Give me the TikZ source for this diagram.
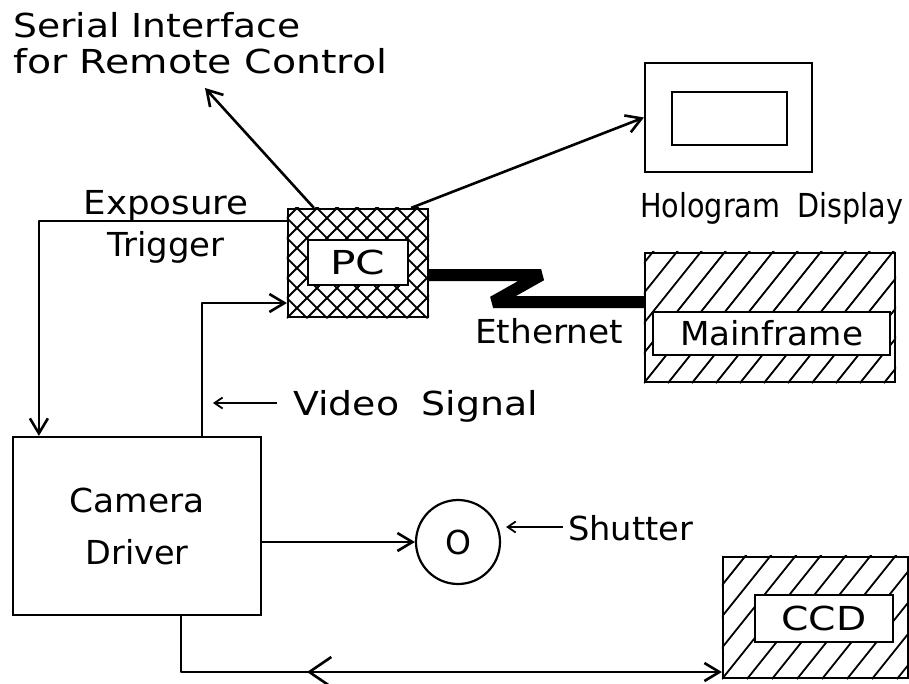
\documentclass[tikz,border=0pt]{standalone}
\usepackage{fontspec}
\setmainfont{DejaVu Sans}
\usetikzlibrary{arrows.meta,calc,decorations.markings}
\newcommand{\fitw}[2]{\resizebox{#1}{\height}{#2}}
\begin{document}
\begin{tikzpicture}[x=1pt,y=-1pt,
  lbl/.style={inner sep=0pt, font=\fontsize{33}{40}\selectfont},
  box/.style={draw, line width=2.2pt, inner sep=0pt, font=\fontsize{33}{40}\selectfont},
  conn/.style={line width=2.6pt, line join=round, -{Straight Barb[length=15pt,width=18pt]}},
  thinarr/.style={line width=1.8pt, -{Straight Barb[length=8pt,width=11pt]}},
  hatch/.style={line width=1.8pt}]
\path[use as bounding box, fill=white] (0,0) rectangle (909,683);

% Serial interface label
\node[lbl, anchor=north west, align=left, font=\fontsize{33}{36}\selectfont] (serial) at (13,12)
  {\fitw{287pt}{Serial Interface}\\\fitw{374pt}{for Remote Control}};
\coordinate (sertip) at (205,88);

% Hologram display
\node[box, minimum width=167pt, minimum height=109pt] (holo) at (728.5,117.5) {};
\node[box, minimum width=115pt, minimum height=53pt] (holoin) at (729.5,118.5) {};
\node[lbl, anchor=base west] (hololbl) at (640,217) {\fitw{263pt}{Hologram\hspace{0.6em}Display}};

% PC
\node[box, minimum width=140pt, minimum height=108pt] (pc) at (358,263) {};
\begin{scope}
  \clip (pc.north west) rectangle (pc.south east);
  \foreach \i in {-8,...,15} {
    \draw[hatch] ($(pc.south west)+(\i*20,0)$) -- ++(130,-130);
    \draw[hatch] ($(pc.south west)+(\i*20,0)$) -- ++(-130,-130);
  }
\end{scope}
\node[box, fill=white, minimum width=100pt, minimum height=45pt] (pcin) at (358,262.5) {\fitw{55pt}{PC}};

% Mainframe
\node[box, minimum width=250pt, minimum height=129pt] (mf) at (770,317.5) {};
\begin{scope}
  \clip (mf.north west) rectangle (mf.south east);
  \foreach \i in {-8,...,12} {
    \draw[hatch] ($(mf.south west)+(\i*24,0)$) -- ++(112,-140);
  }
\end{scope}
\node[box, fill=white, minimum width=237pt, minimum height=43pt] (mfin) at (771.5,333.5) {\fitw{183pt}{Mainframe}};
\node[lbl, anchor=base west] (eth) at (475,343) {\fitw{148pt}{Ethernet}};
\draw[line width=12pt, line join=bevel] ([yshift=-12pt]pc.east) -- ++(112,0) -- ++(-48,27) -- ([yshift=15.5pt]mf.west);

% Exposure trigger label
\node[lbl, anchor=north, align=center, font=\fontsize{33}{42}\selectfont] (exptrig) at (166,190)
  {\fitw{165pt}{Exposure}\\\fitw{117pt}{Trigger}};

% Camera driver
\node[box, minimum width=248pt, minimum height=178pt, align=center, font=\fontsize{33}{52}\selectfont] (cd) at (137,526)
  {\fitw{135pt}{Camera}\\\fitw{103pt}{Driver}};

% Video signal label
\node[lbl, anchor=base west] (vlabel) at (293,415) {\fitw{245pt}{Video\hspace{0.6em}Signal}};

% Shutter
\node[draw, circle, line width=2.2pt, minimum size=84pt, inner sep=0pt, font=\fontsize{33}{40}\selectfont] (shut) at (458,542) {O};
\node[lbl, anchor=base west] (shlabel) at (568,540) {\fitw{125pt}{Shutter}};

% CCD
\node[box, minimum width=185pt, minimum height=121pt] (ccd) at (815.5,617.5) {};
\begin{scope}
  \clip (ccd.north west) rectangle (ccd.south east);
  \foreach \i in {-7,...,9} {
    \draw[hatch] ($(ccd.south west)+(\i*25,0)$) -- ++(104,-130);
  }
\end{scope}
\node[box, fill=white, minimum width=138pt, minimum height=47pt] (ccdin) at (824,618.5) {\fitw{85pt}{CCD}};

% Connectors
\draw[conn] ([yshift=-13pt]pc.north west) -| ([xshift=27pt]cd.north west);
\draw[conn] ([xshift=190pt]cd.north west) |- ([yshift=-40pt]pc.west);
\draw[conn] ([xshift=27pt]pc.north west) -- (sertip);
\draw[conn] ([xshift=-18pt]pc.north east) -- (holo.west);
\draw[conn] ([yshift=-16pt]cd.east) -- (shut.west);
\draw[thinarr] ($(shlabel.base west)+(-5,-13)$) -- ($(shut.east |- shlabel.base west)+(5,-13)$);
\draw[thinarr] ($(vlabel.base west)+(-16,-12)$) -- ($(vlabel.base west)+(-80,-12)$);
\draw[conn, postaction={decorate},
  decoration={markings, mark=at position 182pt with {\arrowreversed[line width=2.6pt]{Straight Barb[length=22pt,width=30pt]}}}]
  ([xshift=169pt]cd.south west) |- ([yshift=-54.5pt]ccd.west);
\end{tikzpicture}
\end{document}
